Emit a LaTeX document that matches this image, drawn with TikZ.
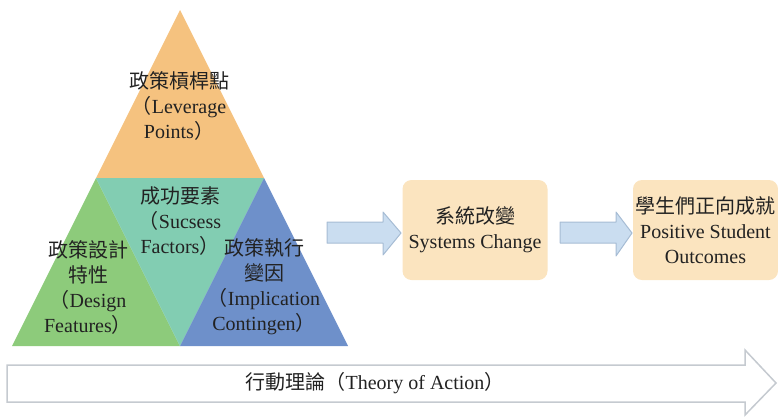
\documentclass[tikz,border=0pt]{standalone}
\usepackage{fontspec}
\setmainfont{Liberation Serif}
\newfontfamily\cjk{Noto Sans CJK TC}
\newcommand{\zh}[1]{{\cjk #1}}
\usetikzlibrary{positioning}

\definecolor{levcol}{HTML}{F5C27F}
\definecolor{descol}{HTML}{8DCB7B}
\definecolor{succol}{HTML}{82CDB2}
\definecolor{impcol}{HTML}{6E90CA}
\definecolor{boxcol}{HTML}{FBE4BF}
\definecolor{arrfill}{HTML}{CADDF0}
\definecolor{arrline}{HTML}{A6BCD4}
\definecolor{bigline}{HTML}{C5CAD0}
\definecolor{txt}{HTML}{222222}

\begin{document}
\begin{tikzpicture}[x=1pt, y=-1pt,
        every node/.style={text=txt, font=\fontsize{20}{25}\selectfont},
        label/.style={align=center, inner sep=0pt},
        outcome/.style={fill=boxcol, rounded corners=9pt, minimum width=145pt,
            minimum height=100pt, align=center, inner sep=0pt},
        blockarrow/.style={fill=arrfill, draw=arrline, line width=1pt, line join=round},
        bigarrow/.style={fill=white, draw=bigline, line width=1.5pt}]
    \useasboundingbox (0,0) rectangle (778,416);
    % pyramid
    \coordinate (apex) at (180,10);
    \coordinate (ml) at (96,178);
    \coordinate (mr) at (264,178);
    \coordinate (bl) at (12,346);
    \coordinate (bm) at (180,346);
    \coordinate (br) at (348,346);
    \fill[levcol] (apex) -- (ml) -- (mr) -- cycle;
    \fill[descol] (ml) -- (bl) -- (bm) -- cycle;
    \fill[succol] (ml) -- (mr) -- (bm) -- cycle;
    \fill[impcol] (mr) -- (br) -- (bm) -- cycle;
    \node[label] (lev) at (179,106) {\zh{政策槓桿點}\\\zh{（}Leverage\\Points\zh{）}};
    \node[label] (suc) at (180,221) {\zh{成功要素}\\\zh{（}Sucsess\\Factors\zh{）}};
    \node[label] (des) at (88,287) {\zh{政策設計}\\\zh{特性}\\\zh{（}Design\\Features\zh{）}};
    \node[label] (imp) at (264,287) {\zh{政策執行}\\\zh{變因}\\\zh{（}Implication\\Contingen\zh{）}};
    % outcomes
    \node[outcome] (sys) at (475,230) {\zh{系統改變}\\Systems Change};
    \node[outcome] (stu) at (705.5,230) {\zh{學生們正向成就}\\Positive Student\\Outcomes};
    % block arrows
    \draw[blockarrow] (327,222) -- (383,222) -- (383,212) -- (401,233)
        -- (383,255) -- (383,243) -- (327,243) -- cycle;
    \draw[blockarrow] (560,222) -- (616,222) -- (616,212) -- (632,233)
        -- (616,256) -- (616,243) -- (560,243) -- cycle;
    % theory of action
    \draw[bigarrow] (7,365) -- (745,365) -- (745,350) -- (776,383)
        -- (745,415) -- (745,402) -- (7,402) -- cycle;
    \node[label] (toa) at (375,383) {\zh{行動理論（}Theory of Action\zh{）}};
\end{tikzpicture}
\end{document}
